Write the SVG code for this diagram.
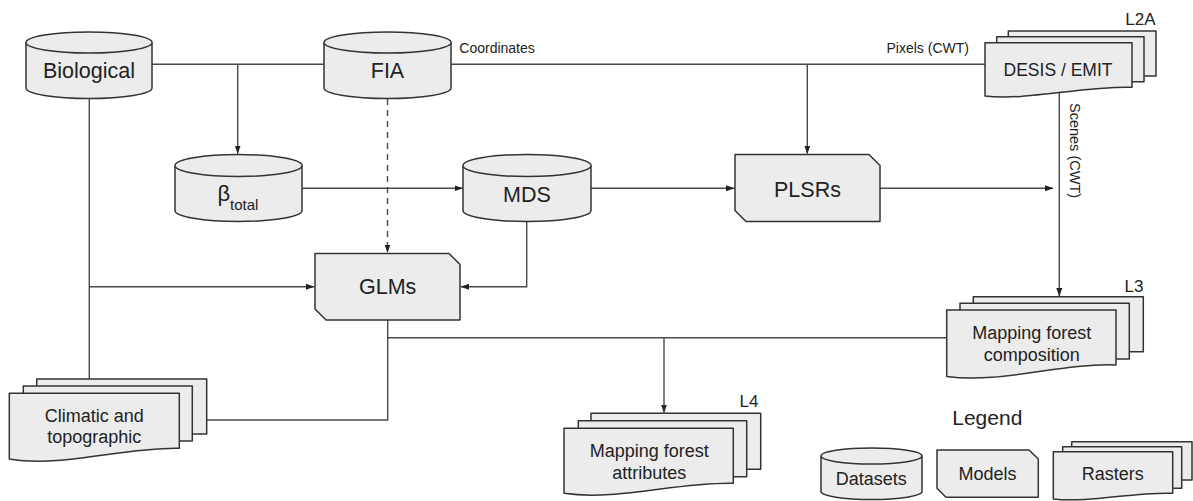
<svg xmlns="http://www.w3.org/2000/svg" width="1193" height="501" viewBox="0 0 1193 501">
<style>
.n{fill:#ececec;stroke:#333;stroke-width:1.5;stroke-linejoin:round}
.c{fill:none;stroke:#4a4a4a;stroke-width:1.4}
.d{stroke-dasharray:6,5}
.t{font-family:"Liberation Sans",Arial,sans-serif;fill:#222;text-anchor:middle}
.big{font-size:21.5px}
.mid{font-size:18px}
.sm{font-size:14px;text-anchor:start}
.lv{font-size:17px;text-anchor:end}
</style>
<defs>
<marker id="ah" markerWidth="9" markerHeight="7" refX="8" refY="3.5" orient="auto" markerUnits="userSpaceOnUse">
<path d="M0,0.5 L8.5,3.5 L0,6.5 Z" fill="#222"/>
</marker>
</defs>
<rect width="1193" height="501" fill="#fff"/>

<g id="connectors">
<path class="c" d="M152,64.3 H324 M451,64.3 H985"/>
<path class="c" d="M237.7,64.3 V153.5" marker-end="url(#ah)"/>
<path class="c" d="M807.3,64.3 V153.5" marker-end="url(#ah)"/>
<path class="c d" d="M387.5,99 V252.5" marker-end="url(#ah)"/>
<path class="c" d="M302,188.3 H462.5" marker-end="url(#ah)"/>
<path class="c" d="M591,188.3 H734" marker-end="url(#ah)"/>
<path class="c" d="M880,188.3 H1053" marker-end="url(#ah)"/>
<path class="c" d="M1059.3,93 V296" marker-end="url(#ah)"/>
<path class="c" d="M89.3,98.5 V379"/>
<path class="c" d="M89.3,286.7 H314" marker-end="url(#ah)"/>
<path class="c" d="M526.7,221.5 V286.7 H461" marker-end="url(#ah)"/>
<path class="c" d="M387.7,320 V420 H206.7"/>
<path class="c" d="M387.7,337.7 H946.7"/>
<path class="c" d="M664,337.7 V412.5" marker-end="url(#ah)"/>
<text class="t sm" x="459.3" y="53.3">Coordinates</text>
<text class="t sm" x="886.5" y="53.3">Pixels (CWT)</text>
<text class="t sm" transform="translate(1069.5,103) rotate(90)" style="font-size:14.5px">Scenes (CWT)</text>
</g>

<g id="biological">
<path class="n" d="M26,42.5 A63,10.5 0 0 1 152,42.5 V88 A63,10.5 0 0 1 26,88 Z"/>
<path class="n" fill="none" d="M26,42.5 A63,10.5 0 0 0 152,42.5"/>
<text class="t big" x="89" y="78">Biological</text>
</g>

<g id="fia">
<path class="n" d="M324,42.5 A63.5,10.5 0 0 1 451,42.5 V88 A63.5,10.5 0 0 1 324,88 Z"/>
<path class="n" d="M324,42.5 A63.5,10.5 0 0 0 451,42.5"/>
<text class="t big" x="387.5" y="78">FIA</text>
</g>

<g id="beta">
<path class="n" d="M175,165.5 A63.5,11 0 0 1 302,165.5 V210.5 A63.5,11 0 0 1 175,210.5 Z"/>
<path class="n" d="M175,165.5 A63.5,11 0 0 0 302,165.5"/>
<text class="t" style="font-size:22px;text-anchor:start" x="217.5" y="201">β<tspan style="font-size:15px" x="230" y="209.5">total</tspan></text>
</g>

<g id="mds">
<path class="n" d="M463,165.5 A64,11 0 0 1 591,165.5 V210.5 A64,11 0 0 1 463,210.5 Z"/>
<path class="n" d="M463,165.5 A64,11 0 0 0 591,165.5"/>
<text class="t big" x="527" y="202">MDS</text>
</g>

<g id="plsrs">
<path class="n" d="M735,154.5 H869 L880,165.5 V221.5 H746 L735,210.5 Z"/>
<text class="t big" x="807.5" y="197">PLSRs</text>
</g>

<g id="glms">
<path class="n" d="M315,253.5 H449 L460,264.5 V320 H326 L315,309 Z"/>
<text class="t big" x="387.7" y="294.3">GLMs</text>
</g>

<g id="desis">
<rect class="n" x="1008.3" y="31" width="147.7" height="45"/>
<rect class="n" x="996.7" y="36.7" width="147.3" height="45"/>
<path class="n" d="M985,42.7 H1132 V87.3 C1083,86 1025,101 985,96 Z"/>
<text class="t" style="font-size:17.5px" x="1058" y="76">DESIS / EMIT</text>
<text class="t lv" x="1155.5" y="25">L2A</text>
</g>

<g id="composition">
<rect class="n" x="973.3" y="296.7" width="170" height="55"/>
<rect class="n" x="960" y="303.3" width="169.3" height="55.7"/>
<path class="n" d="M946.7,310 H1116 V365 C1060,363 1000,384 946.7,376.5 Z"/>
<text class="t mid" x="1031.7" y="339.3">Mapping forest</text>
<text class="t mid" x="1031.7" y="361">composition</text>
<text class="t lv" x="1143.5" y="291.7">L3</text>
</g>

<g id="climatic">
<rect class="n" x="36.7" y="379" width="170" height="55"/>
<rect class="n" x="23.3" y="386" width="169" height="55"/>
<path class="n" d="M9.3,393.3 H179.3 V448.3 C123,447 63,468 9.3,459 Z"/>
<text class="t mid" x="94.3" y="421.7">Climatic and</text>
<text class="t mid" x="94.3" y="442.7">topographic</text>
</g>

<g id="attributes">
<rect class="n" x="591" y="413.3" width="169.7" height="56"/>
<rect class="n" x="578.3" y="420.7" width="168.4" height="56"/>
<path class="n" d="M564,428.3 H733.3 V483.3 C677,482 617,501 564,493.3 Z"/>
<text class="t mid" x="649.3" y="457.3">Mapping forest</text>
<text class="t mid" x="649.3" y="479">attributes</text>
<text class="t lv" x="758.5" y="406.7">L4</text>
</g>

<g id="legend">
<text class="t" style="font-size:21px" x="987.3" y="425">Legend</text>
<g id="legend-datasets">
<path class="n" d="M821,456 A50.5,8 0 0 1 922,456 V491.5 A50.5,8 0 0 1 821,491.5 Z"/>
<path class="n" d="M821,456 A50.5,8 0 0 0 922,456"/>
<text class="t mid" x="871.3" y="485">Datasets</text>
</g>
<g id="legend-models">
<path class="n" d="M937,450 H1029 L1038.3,459 V497.3 H946 L937,488.3 Z"/>
<text class="t mid" x="987.5" y="480">Models</text>
</g>
<g id="legend-rasters">
<rect class="n" x="1071.7" y="441.7" width="120.3" height="38.3"/>
<rect class="n" x="1062.7" y="446.7" width="119" height="41.6"/>
<path class="n" d="M1053.3,451.7 H1172.7 V493.3 C1133,492 1090,503 1053.3,499 Z"/>
<text class="t mid" x="1112.7" y="480">Rasters</text>
</g>
</g>
</svg>
